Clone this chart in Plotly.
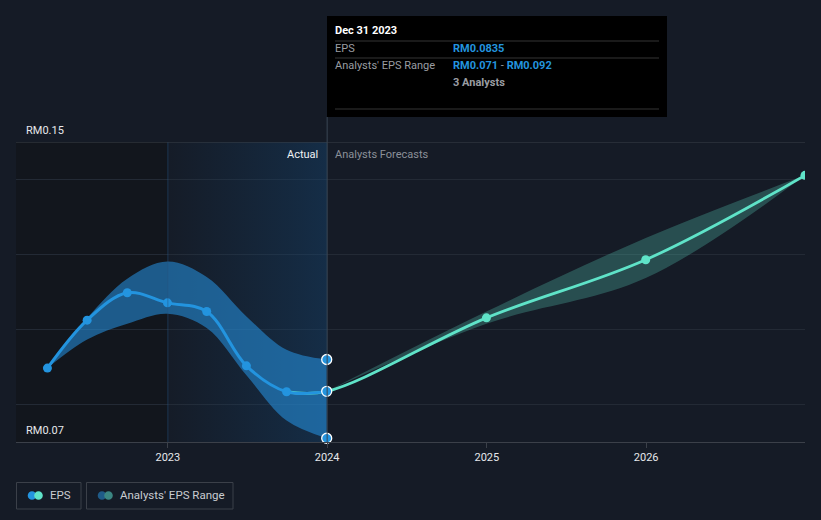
import plotly.graph_objects as go

# ---------------- data ----------------
actual_dates = ['2022-03-31', '2022-06-30', '2022-09-30', '2022-12-31',
                '2023-03-31', '2023-06-30', '2023-09-30', '2023-12-31']
eps_actual = [0.0897, 0.1025, 0.1098, 0.1071, 0.1048, 0.0903, 0.0834, 0.0835]
range_hi_actual = [0.0897, 0.1030, 0.1135, 0.1181, 0.1140, 0.1035, 0.0946, 0.092]
range_lo_actual = [0.0897, 0.0973, 0.1015, 0.1042, 0.1004, 0.0878, 0.0757, 0.071]

forecast_dates = ['2023-12-31', '2024-12-31', '2025-12-31', '2026-12-31']
eps_forecast = [0.0835, 0.1031, 0.1186, 0.1411]
range_hi_forecast = [0.0835, 0.1048, 0.1244, 0.1411]
range_lo_forecast = [0.0835, 0.1015, 0.1137, 0.1411]

x_tick_vals = ['2023-01-01', '2024-01-01', '2025-01-01', '2026-01-01']
x_tick_text = ['2023', '2024', '2025', '2026']
y_label_vals = [0.15, 0.07]
y_label_text = ['RM0.15', 'RM0.07']
y_grid_vals = [0.08, 0.10, 0.12, 0.14]

x_range = ['2022-01-18', '2026-12-31']
y_range = [0.07, 0.15]

tooltip_date = 'Dec 31 2023'
tooltip_eps = 'RM0.0835'
tooltip_lo = 'RM0.071'
tooltip_hi = 'RM0.092'
tooltip_analysts = '3 Analysts'

# ---------------- style ----------------
BG = '#151b26'
BLUE = '#2394df'
TEAL = '#5fe3c8'
FONT = 'Roboto'
W, H = 821, 520
L, R, T, B = 16, 16, 142, 78


def xp(px):
    return (px - L) / (W - L - R)


def yp(py):
    return (H - B - py) / (H - T - B)


fig = go.Figure()

# gradient highlighted "past year" region
fig.add_trace(go.Scatter(
    x=['2023-01-01', '2024-01-01', '2024-01-01', '2023-01-01', '2023-01-01'],
    y=[y_range[0], y_range[0], y_range[1], y_range[1], y_range[0]],
    mode='lines', line=dict(width=0), fill='toself',
    fillgradient=dict(type='horizontal',
                      colorscale=[[0, 'rgba(20,70,115,0.02)'], [1, 'rgba(20,75,125,0.38)']]),
    hoverinfo='skip', showlegend=False))

# actual analyst range band
fig.add_trace(go.Scatter(x=actual_dates, y=range_lo_actual, mode='lines',
                         line=dict(width=0, shape='spline'), hoverinfo='skip', showlegend=False))
fig.add_trace(go.Scatter(x=actual_dates, y=range_hi_actual, mode='lines',
                         line=dict(width=0, shape='spline'), fill='tonexty',
                         fillcolor='rgba(38,150,230,0.55)', hoverinfo='skip', showlegend=False))

# forecast analyst range band
fig.add_trace(go.Scatter(x=forecast_dates, y=range_lo_forecast, mode='lines',
                         line=dict(width=0, shape='spline'), hoverinfo='skip', showlegend=False))
fig.add_trace(go.Scatter(x=forecast_dates, y=range_hi_forecast, mode='lines',
                         line=dict(width=0, shape='spline'), fill='tonexty',
                         fillcolor='rgba(85,200,180,0.3)', hoverinfo='skip', showlegend=False))

# forecast line (starts from the last-but-one actual point for a smooth join, hidden under blue)
fig.add_trace(go.Scatter(x=[actual_dates[-2]] + forecast_dates,
                         y=[eps_actual[-2]] + eps_forecast, mode='lines',
                         line=dict(color=TEAL, width=2.8, shape='spline'),
                         hoverinfo='skip', showlegend=False))
fig.add_trace(go.Scatter(x=forecast_dates[1:], y=eps_forecast[1:], mode='markers',
                         marker=dict(color=TEAL, size=9), hoverinfo='skip', showlegend=False))

# actual line
fig.add_trace(go.Scatter(x=actual_dates, y=eps_actual, mode='lines+markers',
                         line=dict(color=BLUE, width=3, shape='spline'),
                         marker=dict(color=BLUE, size=9), hoverinfo='skip', showlegend=False))

# highlighted points at Dec 31 2023
fig.add_trace(go.Scatter(x=[actual_dates[-1]] * 3,
                         y=[range_hi_actual[-1], eps_actual[-1], range_lo_actual[-1]],
                         mode='markers',
                         marker=dict(color=BLUE, size=10, line=dict(color='white', width=1.3)),
                         cliponaxis=False, hoverinfo='skip', showlegend=False))

shapes = []
# darker area left of 2023
shapes.append(dict(type='rect', xref='x', yref='y', x0=x_range[0], x1='2023-01-01',
                   y0=y_range[0], y1=y_range[1], fillcolor='#12161d', line=dict(width=0),
                   layer='below'))
# vertical line at 2023
shapes.append(dict(type='line', xref='x', yref='y', x0='2023-01-01', x1='2023-01-01',
                   y0=y_range[0], y1=y_range[1], line=dict(color='rgba(40,85,130,0.5)', width=1)))
# vertical line at 2024 up to tooltip
shapes.append(dict(type='line', xref='x', yref='paper', x0='2024-01-01', x1='2024-01-01',
                   y0=0, y1=yp(117), line=dict(color='#3a4655', width=1)))
# top border line
shapes.append(dict(type='line', xref='paper', yref='y', x0=0, x1=1, y0=y_range[1], y1=y_range[1],
                   line=dict(color='#3b4049', width=1)))

# tooltip box
shapes.append(dict(type='rect', xref='paper', yref='paper', x0=xp(327), x1=xp(667),
                   y0=yp(117), y1=yp(16), fillcolor='#000000', line=dict(width=0)))
for ly in (41, 58, 109):
    shapes.append(dict(type='line', xref='paper', yref='paper', x0=xp(335), x1=xp(659),
                       y0=yp(ly), y1=yp(ly), line=dict(color='#353535', width=1)))

# legend boxes
shapes.append(dict(type='rect', xref='paper', yref='paper', x0=xp(16.5), x1=xp(81),
                   y0=yp(509), y1=yp(482.5), line=dict(color='#3b4049', width=1),
                   fillcolor='rgba(0,0,0,0)'))
shapes.append(dict(type='rect', xref='paper', yref='paper', x0=xp(86.5), x1=xp(233),
                   y0=yp(509), y1=yp(482.5), line=dict(color='#3b4049', width=1),
                   fillcolor='rgba(0,0,0,0)'))
for cx, col in ((32, BLUE), (38.5, TEAL), (102, '#1f5b88'), (108.5, '#3b8682')):
    r = 4.3
    shapes.append(dict(type='circle', xref='paper', yref='paper',
                       x0=xp(cx - r), x1=xp(cx + r), y0=yp(495.5 + r), y1=yp(495.5 - r),
                       fillcolor=col, line=dict(width=0)))

ann = []
# y labels
for v, t in zip(y_label_vals, y_label_text):
    ann.append(dict(x=xp(24), xref='paper', y=v, yref='y', text=t, showarrow=False,
                    xanchor='left', yanchor='bottom', yshift=3,
                    font=dict(family=FONT, size=11, color='#e6e8eb')))
# Actual / Forecast labels
ann.append(dict(x=xp(320), xref='paper', y=yp(154), yref='paper', text='Actual', showarrow=False,
                xanchor='right', yanchor='middle', font=dict(family=FONT, size=11, color='#f0f2f4')))
ann.append(dict(x=xp(333), xref='paper', y=yp(154), yref='paper', text='Analysts Forecasts',
                showarrow=False, xanchor='left', yanchor='middle',
                font=dict(family=FONT, size=11, color='#8b9099')))
# tooltip text
ann.append(dict(x=xp(333), xref='paper', y=yp(31), yref='paper', text='<b>' + tooltip_date + '</b>',
                showarrow=False, xanchor='left', yanchor='middle',
                font=dict(family=FONT, size=11, color='#ffffff')))
ann.append(dict(x=xp(333), xref='paper', y=yp(49), yref='paper', text='EPS',
                showarrow=False, xanchor='left', yanchor='middle',
                font=dict(family=FONT, size=11, color='#9a9da2')))
ann.append(dict(x=xp(333), xref='paper', y=yp(66), yref='paper', text="Analysts' EPS Range",
                showarrow=False, xanchor='left', yanchor='middle',
                font=dict(family=FONT, size=11, color='#9a9da2')))
ann.append(dict(x=xp(451), xref='paper', y=yp(49), yref='paper', text='<b>' + tooltip_eps + '</b>',
                showarrow=False, xanchor='left', yanchor='middle',
                font=dict(family=FONT, size=11, color=BLUE)))
ann.append(dict(x=xp(451), xref='paper', y=yp(66), yref='paper',
                text='<b>' + tooltip_lo + '</b><span style="color:#9a9da2"> - </span><b>' + tooltip_hi + '</b>',
                showarrow=False, xanchor='left', yanchor='middle',
                font=dict(family=FONT, size=11, color=BLUE)))
ann.append(dict(x=xp(451), xref='paper', y=yp(83), yref='paper', text='<b>' + tooltip_analysts + '</b>',
                showarrow=False, xanchor='left', yanchor='middle',
                font=dict(family=FONT, size=11, color='#9a9da2')))
# legend text
ann.append(dict(x=xp(48), xref='paper', y=yp(495.5), yref='paper', text='EPS',
                showarrow=False, xanchor='left', yanchor='middle',
                font=dict(family=FONT, size=11.5, color='#c9ccd1')))
ann.append(dict(x=xp(118), xref='paper', y=yp(495.5), yref='paper', text="Analysts' EPS Range",
                showarrow=False, xanchor='left', yanchor='middle',
                font=dict(family=FONT, size=11.5, color='#c9ccd1')))

fig.update_layout(
    width=W, height=H,
    margin=dict(l=L, r=R, t=T, b=B),
    paper_bgcolor=BG, plot_bgcolor=BG,
    showlegend=False,
    shapes=shapes, annotations=ann,
    font=dict(family=FONT),
    xaxis=dict(type='date', range=x_range, tickvals=x_tick_vals, ticktext=x_tick_text,
               showgrid=False, zeroline=False, showline=True, linecolor='#3b4049', linewidth=1,
               ticks='outside', ticklen=5, tickcolor='#3b4049',
               tickfont=dict(family=FONT, size=11, color='#e6e8eb'), fixedrange=True),
    yaxis=dict(range=y_range, tickvals=y_grid_vals, showticklabels=False, showgrid=True,
               gridcolor='#232a35', gridwidth=1, zeroline=False, ticks='', fixedrange=True),
)

fig.write_html('out.html', config={'displayModeBar': False},
               post_script="document.body.style.margin='0';document.body.style.overflow='hidden';"
                           "document.body.style.background='" + BG + "';")
